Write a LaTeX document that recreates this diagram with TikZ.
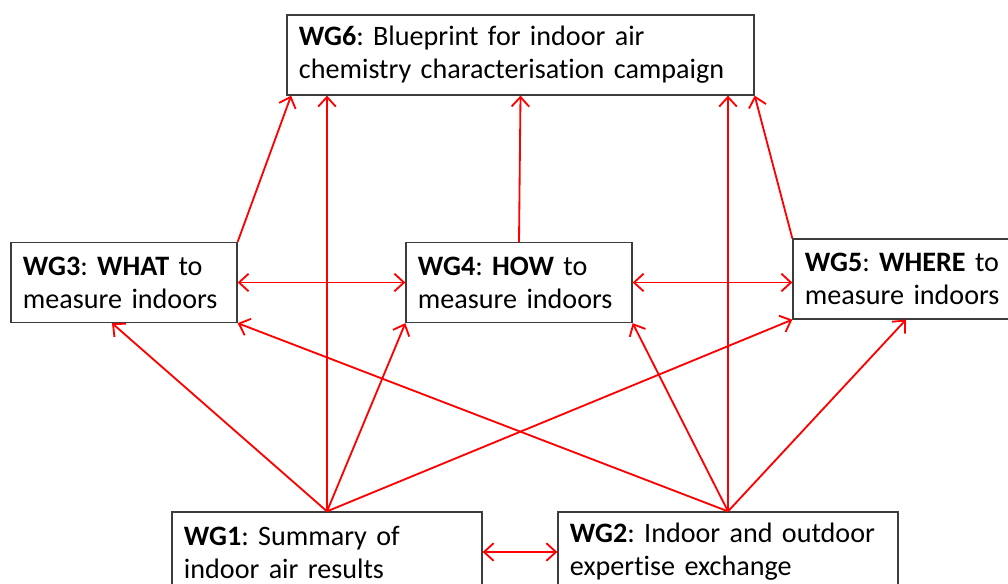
\documentclass[tikz,border=0pt]{standalone}
\usepackage{fontspec}
\setmainfont{Carlito}[Ligatures=NoCommon]
\usetikzlibrary{arrows.meta}
\definecolor{boxgray}{RGB}{60,60,60}
\frenchspacing
\begin{document}
\begin{tikzpicture}[x=0.025cm,y=-0.025cm]
		\tikzset{wgbox/.style = {draw=boxgray,line width=0.9pt,inner xsep=0.3cm,inner ysep=0pt,
			align=left,text width=#1,minimum height=2cm,
			font=\fontsize{20}{23.5}\selectfont}}
		\tikzset{link/.style = {draw=red,line width=1.3pt,-{Straight Barb[length=2.4mm,width=4.4mm]}}}
		\tikzset{twoway/.style = {link,{Straight Barb[length=2.4mm,width=4.4mm]}-{Straight Barb[length=2.4mm,width=4.4mm]}}}
		\useasboundingbox (0,0) rectangle (1008,584);
		\node[wgbox=11.075cm] (wg6) at (520.5,55) {\textbf{WG6}: Blueprint for indoor air\\chemistry characterisation campaign};
		\node[wgbox=5.05cm] (wg3) at (124,282.5) {\textbf{WG3}: \textbf{WHAT} to\\measure indoors};
		\node[wgbox=5.05cm] (wg4) at (519,282.5) {\textbf{WG4}: \textbf{HOW} to\\measure indoors};
		\node[wgbox=5.05cm] (wg5) at (906,279) {\textbf{WG5}: \textbf{WHERE} to\\measure indoors};
		\node[wgbox=7.15cm] (wg1) at (327,552) {\textbf{WG1}: Summary of\\indoor air results};
		\node[wgbox=7.9cm] (wg2) at (728,552) {\textbf{WG2}: Indoor and outdoor\\expertise exchange};
		% links into WG6
		\path[link] (wg3.north east) -- ([xshift=0.12cm]wg6.south west);
		\path[link] (wg4.north) -- (wg6.south);
		\path[link] (wg5.north west) -- (wg6.south east);
		\path[link] (wg1.north) -- (wg1.north |- wg6.south);
		\path[link] (wg2.north) -- (wg2.north |- wg6.south);
		% links from WG1
		\path[link] (wg1.north) -- ([xshift=-0.3cm]wg3.south);
		\path[link] (wg1.north) -- (wg4.south west);
		\path[link] (wg1.north) -- (wg5.south west);
		% links from WG2
		\path[link] (wg2.north) -- (wg3.south east);
		\path[link] (wg2.north) -- (wg4.south east);
		\path[link] (wg2.north) -- (wg5.south);
		% two way links
		\path[twoway] (wg3.east) -- (wg4.west);
		\path[twoway] (wg4.east) -- (wg5.west |- wg4.east);
		\path[twoway] (wg1.east) -- (wg2.west);
	\end{tikzpicture}
\end{document}
